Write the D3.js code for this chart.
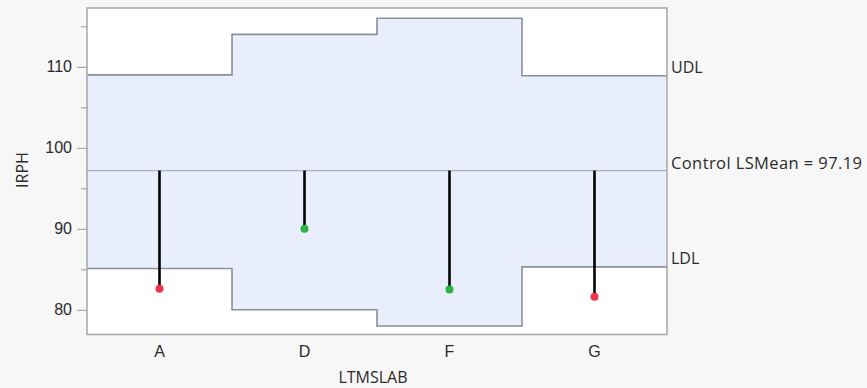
<!DOCTYPE html>
<html>
<head>
<meta charset="utf-8">
<script src="https://cdn.jsdelivr.net/npm/d3@7"></script>
<style>
  html, body { margin: 0; padding: 0; background: #f7f7f7; }
  svg { display: block; font-family: "Open Sans", "Noto Sans", sans-serif; }
</style>
</head>
<body>
<svg id="chart" width="867" height="388"></svg>
<script>
// Least-squares means compared against a control, with decision limits per level
const categories = ["A", "D", "F", "G"];
const lsMeans = [82.6, 90.0, 82.5, 81.6];
const upperLimits = [109.0, 114.0, 116.0, 108.9];
const lowerLimits = [85.1, 80.0, 78.0, 85.3];
const controlMean = 97.19;
const majorTicks = [80, 90, 100, 110];
const minorTicks = [85, 95, 105, 115];
const limitLabels = ["UDL", "LDL"];

const svg = d3.select("#chart");
const frame = { left: 87, right: 667, top: 8, bottom: 334.5 };
const textColor = "#2b2b2b";
const fontSize = "16px";

const x = d3.scaleBand().domain(categories).range([frame.left, frame.right]).padding(0);
const y = d3.scaleLinear().domain([76.95, 117.26]).range([frame.bottom, frame.top]);

// plot background
svg.append("rect")
  .attr("x", frame.left).attr("y", frame.top)
  .attr("width", frame.right - frame.left).attr("height", frame.bottom - frame.top)
  .attr("fill", "#ffffff");

// step outline of the decision limits: two points per level
const steps = [];
categories.forEach((c, i) => {
  const x0 = x(c), x1 = x0 + x.bandwidth();
  steps.push({ x: x0, u: upperLimits[i], l: lowerLimits[i] });
  steps.push({ x: x1, u: upperLimits[i], l: lowerLimits[i] });
});

svg.append("path")
  .datum(steps)
  .attr("fill", "#e8eefc")
  .attr("d", d3.area().x(d => d.x).y0(d => y(d.l)).y1(d => y(d.u)));

const lineColor = "#8a8f98";
svg.append("path")
  .datum(steps)
  .attr("fill", "none").attr("stroke", lineColor).attr("stroke-width", 1.6)
  .attr("d", d3.line().x(d => d.x).y(d => y(d.u)));
svg.append("path")
  .datum(steps)
  .attr("fill", "none").attr("stroke", lineColor).attr("stroke-width", 1.6)
  .attr("d", d3.line().x(d => d.x).y(d => y(d.l)));

// control mean reference line
svg.append("line")
  .attr("x1", frame.left).attr("x2", frame.right)
  .attr("y1", y(controlMean)).attr("y2", y(controlMean))
  .attr("stroke", "#a9afbb").attr("stroke-width", 1.2);

// frame
svg.append("rect")
  .attr("x", frame.left).attr("y", frame.top)
  .attr("width", frame.right - frame.left).attr("height", frame.bottom - frame.top)
  .attr("fill", "none").attr("stroke", "#a6a6a6").attr("stroke-width", 1.5);

// needles from the control mean to each level's mean
const pts = categories.map((c, i) => ({
  c, v: lsMeans[i],
  out: lsMeans[i] < lowerLimits[i] || lsMeans[i] > upperLimits[i]
}));
svg.append("g").selectAll("line").data(pts).join("line")
  .attr("x1", d => x(d.c) + x.bandwidth() / 2).attr("x2", d => x(d.c) + x.bandwidth() / 2)
  .attr("y1", y(controlMean)).attr("y2", d => y(d.v))
  .attr("stroke", "#000").attr("stroke-width", 2.6);
svg.append("g").selectAll("circle").data(pts).join("circle")
  .attr("cx", d => x(d.c) + x.bandwidth() / 2).attr("cy", d => y(d.v))
  .attr("r", 4)
  .attr("fill", d => d.out ? "#ee3348" : "#27b443");

// y axis
const yAxis = svg.append("g").attr("transform", `translate(${frame.left},0)`)
  .call(d3.axisLeft(y).tickValues(majorTicks).tickSize(10).tickPadding(5));
yAxis.select(".domain").remove();
yAxis.selectAll("line").attr("stroke", "#999");
yAxis.selectAll("text").attr("fill", textColor).style("font-size", fontSize).style("font-family", "inherit");

const yMinor = svg.append("g").attr("transform", `translate(${frame.left},0)`)
  .call(d3.axisLeft(y).tickValues(minorTicks).tickSize(6).tickFormat(""));
yMinor.select(".domain").remove();
yMinor.selectAll("line").attr("stroke", "#999");

// x axis labels
const xAxis = svg.append("g").attr("transform", `translate(0,${frame.bottom})`)
  .call(d3.axisBottom(x).tickSize(0).tickPadding(11.5));
xAxis.select(".domain").remove();
xAxis.selectAll("text").attr("fill", textColor).style("font-size", fontSize).style("font-family", "inherit");

// axis titles
svg.append("text")
  .attr("x", 373).attr("y", 383)
  .attr("text-anchor", "middle").attr("fill", textColor).style("font-size", fontSize)
  .text("LTMSLAB");
svg.append("text")
  .attr("transform", `translate(28,170) rotate(-90)`)
  .attr("text-anchor", "middle").attr("fill", textColor).style("font-size", fontSize)
  .text("IRPH");

// limit and control labels at the right edge
const last = categories.length - 1;
const rightLabels = [
  { t: limitLabels[0], v: upperLimits[last], dy: -3, size: "16px", ls: 0 },
  { t: `Control LSMean = ${controlMean}`, v: controlMean, dy: -2, size: "16.5px", ls: 0.4 },
  { t: limitLabels[1], v: lowerLimits[last], dy: -3, size: "16px", ls: 0 }
];
svg.append("g").selectAll("text").data(rightLabels).join("text")
  .attr("x", frame.right + 4).attr("y", d => y(d.v) + d.dy)
  .attr("fill", textColor)
  .style("font-size", d => d.size)
  .style("letter-spacing", d => d.ls + "px")
  .text(d => d.t);
</script>
</body>
</html>
